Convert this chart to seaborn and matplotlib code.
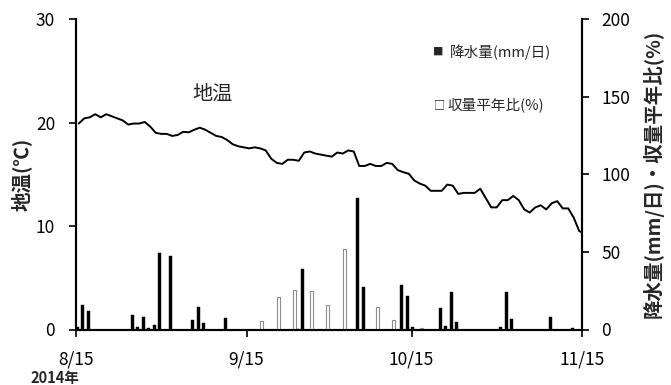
import numpy as np
import pandas as pd
import matplotlib
matplotlib.use("Agg")
import matplotlib.pyplot as plt
import matplotlib.dates as mdates
import seaborn as sns

# ---- data ----
start_date = "2014-08-15"
soil_temp = [19.9, 20.4, 20.5, 20.8, 20.5, 20.8, 20.6, 20.4, 20.2, 19.8,
             19.9, 19.9, 20.05, 19.6, 19.0, 18.9, 18.9, 18.7, 18.8, 19.1,
             19.05, 19.3, 19.5, 19.3, 19.0, 18.7, 18.6, 18.3, 17.9, 17.7,
             17.6, 17.5, 17.6, 17.5, 17.3, 16.5, 16.1, 16.0, 16.4, 16.4,
             16.3, 17.1, 17.2, 17.0, 16.9, 16.8, 16.7, 17.1, 17.0, 17.3,
             17.2, 15.8, 15.8, 16.0, 15.8, 15.8, 16.1, 16.0, 15.4, 15.2,
             15.05, 14.4, 14.1, 13.9, 13.4, 13.4, 13.4, 14.0, 13.9, 13.1,
             13.2, 13.2, 13.2, 13.6, 12.7, 11.8, 11.8, 12.5, 12.5, 12.9,
             12.5, 11.6, 11.3, 11.8, 12.0, 11.6, 12.2, 12.4, 11.7, 11.7,
             10.8, 9.5, 9.3]

# precipitation (mm/day): day index from 8/15 -> value
rain_day = [0, 1, 2, 10, 11, 12, 13, 14, 15, 17, 21, 22, 23, 27, 40, 41,
            51, 52, 59, 60, 61, 66, 67, 68, 69, 77, 78, 79, 86, 90]
rain_val = [1.7, 16, 12, 9.2, 1.7, 8, 1.1, 3.2, 49, 47.3, 6, 14.4, 4.1, 7.3,
            0.6, 38.7, 85, 27.5, 28.6, 21.9, 1.3, 14, 2.4, 24.3, 4.9, 1.9,
            24.3, 6.7, 8, 1.1]

# yield ratio to normal year (%)
yield_day = [29, 33, 36, 39, 42, 45, 48, 54, 57, 62]
yield_val = [0.5, 5.6, 21, 25.6, 24.5, 16, 51.6, 14.8, 6.2, 1.0]

xtick_dates = ["2014-08-15", "2014-09-15", "2014-10-15", "2014-11-15"]
xtick_labels = ["8/15", "9/15", "10/15", "11/15"]

# ---- figure ----
sns.set_style("ticks")
plt.rcParams["font.family"] = ["Noto Sans CJK JP", "DejaVu Sans"]

fig = plt.figure(figsize=(6.71, 3.85), dpi=100)
ax = fig.add_axes([76 / 671, 1 - 329.5 / 385, (582 - 76) / 671, (329.5 - 19) / 385])
ax2 = ax.twinx()

dates = pd.date_range(start_date, periods=len(soil_temp), freq="D")
base = mdates.date2num(pd.Timestamp(start_date))

df_t = pd.DataFrame({"x": mdates.date2num(dates) + 0.5, "temp": soil_temp})
sns.lineplot(data=df_t, x="x", y="temp", ax=ax, color="black", linewidth=1.4)

ax2.bar(base + np.array(rain_day) + 0.2, rain_val, width=0.55,
        color="black", edgecolor="black", linewidth=0.3)
ax2.bar(base + np.array(yield_day) + 0.75, yield_val, width=0.5,
        color="white", edgecolor="#8c8c8c", linewidth=0.8)

xmin = mdates.date2num(pd.Timestamp(xtick_dates[0]))
xmax = mdates.date2num(pd.Timestamp(xtick_dates[-1]))
ax.set_xlim(xmin, xmax)
ax.set_ylim(0, 30)
ax2.set_ylim(0, 200)
ax.set_yticks([0, 10, 20, 30])
ax2.set_yticks([0, 50, 100, 150, 200])
ax.set_xticks([mdates.date2num(pd.Timestamp(d)) for d in xtick_dates])
ax.set_xticklabels(xtick_labels)

for a in (ax, ax2):
    for s in a.spines.values():
        s.set_linewidth(1.5)
        s.set_color("black")
    a.spines["top"].set_visible(False)
    a.tick_params(width=1.2, length=5, labelsize=12.5, colors="black")
ax.tick_params(axis="y", pad=10)
ax2.tick_params(axis="y", pad=9)
ax.tick_params(axis="x", pad=10)
ax.set_xlabel("")
ax.set_ylabel("地温(℃)", fontsize=14, fontweight="bold", labelpad=3)
ax2.set_ylabel("降水量(mm/日)・収量平年比(%)", fontsize=14, fontweight="bold",
               rotation=90, labelpad=9)

# annotations
fig.text(212 / 671, 1 - 94 / 385, "地温", fontsize=14.5,
         ha="center", va="center")
fig.text(438 / 671, 1 - 52 / 385, "■", fontsize=7.5, ha="center", va="center")
fig.text(450 / 671, 1 - 52 / 385, "降水量(mm/日)", fontsize=10.5,
         ha="left", va="center")
fig.text(439 / 671, 1 - 105 / 385, "□", fontsize=8, ha="center", va="center")
fig.text(447 / 671, 1 - 105 / 385, "収量平年比(%)", fontsize=10.5,
         ha="left", va="center")
fig.text(30 / 671, 1 - 378 / 385, "2014年", fontsize=10.5, fontweight="bold",
         ha="left", va="center")

fig.savefig("out.png", dpi=100)
